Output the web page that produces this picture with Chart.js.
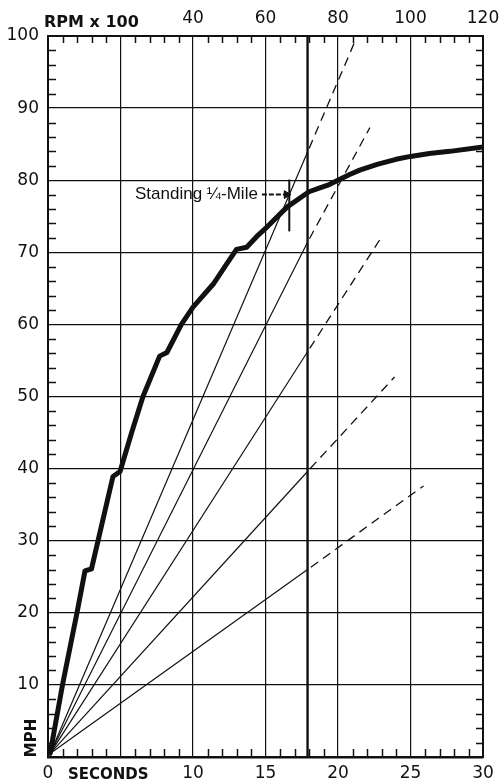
<!DOCTYPE html>
<html lang="en">
<head>
<meta charset="utf-8">
<title>Acceleration and Gear Speed Chart</title>
<script src="https://cdn.jsdelivr.net/npm/chart.js"></script>
<style>
  html, body { margin: 0; padding: 0; background: #fff; }
  #wrap { width: 499px; height: 783px; }
</style>
</head>
<body>
<div id="wrap"><canvas id="accelChart"></canvas></div>
<script>
// thick acceleration curve: elapsed seconds vs mph (shift steps included)
const accelTime = [0.15, 1, 2, 2.55, 3.0, 4.48, 4.97, 5.77, 6.55, 7.7, 8.2, 9.2, 10, 11.4, 12.2, 13, 13.7, 14.4, 15.1, 16.5, 18, 18.7, 19.4, 20.1, 20.8, 21.5, 22.7, 24, 25, 26.3, 27.7, 30];
const accelMph  = [0.5, 10, 20, 25.8, 26.1, 38.9, 39.6, 45, 50, 55.6, 56.1, 60, 62.4, 65.6, 68, 70.4, 70.7, 72.2, 73.5, 76.3, 78.4, 78.9, 79.4, 80.1, 80.8, 81.4, 82.2, 82.9, 83.3, 83.7, 84, 84.6];

// gear lines: solid from origin up to the quarter-mile time, dashed beyond
const quarterMileTime = 17.9;
const gearMphAtQuarter = [26, 39.6, 56.2, 71.4, 83.9];
const gearEndTime = [25.9, 23.9, 22.9, 22.2, 21.2];
const gearEndMph  = [37.6, 52.7, 71.8, 87.3, 99.4];

// standing quarter-mile marker and arrow
const markTime = 16.64;
const markLow = 72.9, markHigh = 80.1;
const arrowFrom = 14.75, arrowTo = 16.45, arrowMph = 78;

// tick labels
const secondTicks = [0, 5, 10, 15, 20, 25, 30];
const rpmTicks = [0, 20, 40, 60, 80, 100, 120];
const mphTicks = [0, 10, 20, 30, 40, 50, 60, 70, 80, 90, 100];

const INK = '#111';
const numFont = { family: 'DejaVu Sans', size: 17 };

const datasets = [];

datasets.push({
  data: accelTime.map((t, i) => ({ x: t, y: accelMph[i] })),
  borderColor: INK, borderWidth: 5, borderJoinStyle: 'round', borderCapStyle: 'round'
});

gearMphAtQuarter.forEach((v, i) => {
  datasets.push({
    data: [{ x: 0.15, y: 0.5 }, { x: quarterMileTime, y: v }],
    borderColor: INK, borderWidth: 1.2
  });
  datasets.push({
    data: [{ x: quarterMileTime, y: v }, { x: gearEndTime[i], y: gearEndMph[i] }],
    borderColor: INK, borderWidth: 1.3, borderDash: [9, 6], borderDashOffset: 11
  });
});

// quarter-mile time line
datasets.push({
  data: [{ x: quarterMileTime, y: 0 }, { x: quarterMileTime, y: 100 }],
  borderColor: INK, borderWidth: 2.4
});

datasets.push({
  data: [{ x: markTime, y: markLow }, { x: markTime, y: markHigh }],
  borderColor: INK, borderWidth: 2
});

datasets.push({
  data: [{ x: arrowFrom, y: arrowMph }, { x: arrowTo, y: arrowMph }],
  borderColor: INK, borderWidth: 2, borderDash: [5, 2],
  pointRadius: [0, 4.5], pointStyle: 'triangle', pointRotation: 90,
  pointBackgroundColor: INK, pointBorderColor: INK, pointBorderWidth: 1
});

const paperMarks = {
  id: 'paperMarks',
  afterDatasetsDraw(chart) {
    const { ctx, chartArea: a, scales: { x, y } } = chart;
    ctx.save();
    ctx.strokeStyle = INK;
    ctx.lineWidth = 1.5;
    ctx.beginPath();
    for (let s = 1; s < 30; s++) {
      if (s % 5 === 0) continue;
      const px = Math.round(x.getPixelForValue(s)) + 0.5;
      ctx.moveTo(px, a.bottom); ctx.lineTo(px, a.bottom - 8);
      ctx.moveTo(px, a.top); ctx.lineTo(px, a.top + 7);
    }
    for (let m = 2; m < 100; m += 2) {
      if (m % 10 === 0) continue;
      const py = Math.round(y.getPixelForValue(m)) + 0.5;
      ctx.moveTo(a.left, py); ctx.lineTo(a.left + 8, py);
      ctx.moveTo(a.right, py); ctx.lineTo(a.right - 7, py);
    }
    ctx.stroke();

    ctx.fillStyle = INK;
    ctx.textBaseline = 'alphabetic';

    ctx.font = 'bold 16px "DejaVu Sans"';
    ctx.textAlign = 'left';
    ctx.fillText('RPM x 100', a.left - 4, a.top - 9);

    ctx.font = 'bold 15px "DejaVu Sans"';
    ctx.fillText('SECONDS', a.left + 20, a.bottom + 22);

    ctx.save();
    ctx.translate(a.left - 8, a.bottom - 19);
    ctx.rotate(-Math.PI / 2);
    ctx.textAlign = 'center';
    ctx.textBaseline = 'bottom';
    ctx.fillText('MPH', 0, 0);
    ctx.restore();

    ctx.font = '17px "Liberation Sans"';
    ctx.textAlign = 'right';
    ctx.textBaseline = 'middle';
    ctx.fillText('Standing \u00BC-Mile', x.getPixelForValue(arrowFrom) - 4, y.getPixelForValue(arrowMph));
    ctx.restore();
  }
};

// fixed axis bands so the plot area sits where the reference has it
function fixBand(size, key) {
  return s => {
    s[key] = size;
    s.paddingLeft = 0; s.paddingRight = 0; s.paddingTop = 0; s.paddingBottom = 0;
  };
}

new Chart(document.getElementById('accelChart'), {
  type: 'line',
  data: { datasets },
  options: {
    responsive: true,
    maintainAspectRatio: false,
    animation: false,
    layout: { padding: 0 },
    elements: { point: { radius: 0 }, line: { tension: 0 } },
    plugins: { legend: { display: false }, tooltip: { enabled: false } },
    scales: {
      x: {
        type: 'linear', position: 'bottom', min: 0, max: 30,
        afterBuildTicks: s => { s.ticks = secondTicks.map(v => ({ value: v })); },
        afterFit: fixBand(26, 'height'),
        grid: { color: INK, lineWidth: 1.2, drawTicks: false },
        border: { color: INK, width: 2.5 },
        ticks: { font: numFont, color: INK, padding: 6, maxRotation: 0,
                 callback: v => (v === 5 ? '' : v) }
      },
      x2: {
        type: 'linear', position: 'top', min: 0, max: 120,
        afterBuildTicks: s => { s.ticks = rpmTicks.map(v => ({ value: v })); },
        afterFit: fixBand(36, 'height'),
        grid: { drawOnChartArea: false, drawTicks: false },
        border: { color: INK, width: 2 },
        ticks: { font: numFont, color: INK, padding: 7, maxRotation: 0,
                 callback: v => (v >= 40 ? v : '') }
      },
      y: {
        type: 'linear', position: 'left', min: 0, max: 100,
        afterBuildTicks: s => { s.ticks = mphTicks.map(v => ({ value: v })); },
        afterFit: fixBand(48, 'width'),
        grid: { color: INK, lineWidth: 1.2, drawTicks: false },
        border: { color: INK, width: 2 },
        ticks: { font: numFont, color: INK, padding: 9,
                 callback: v => (v === 0 ? '' : v) }
      },
      y2: {
        type: 'linear', position: 'right', min: 0, max: 100,
        afterFit: fixBand(16, 'width'),
        grid: { drawOnChartArea: false, drawTicks: false },
        border: { color: INK, width: 2 },
        ticks: { display: false }
      }
    }
  },
  plugins: [paperMarks]
});
</script>
</body>
</html>
